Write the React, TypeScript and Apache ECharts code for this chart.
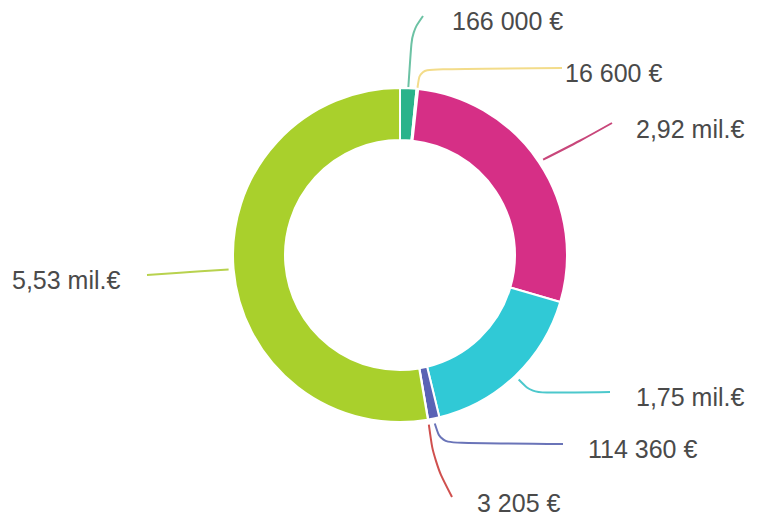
import React, { useEffect, useRef } from "react";
import * as echarts from "echarts";

const categories = ["A", "B", "C", "D", "E", "F", "G"];
const values = [166000, 16600, 2920000, 1750000, 114360, 3205, 5530000];
const valueLabels = [
  "166 000 €",
  "16 600 €",
  "2,92 mil.€",
  "1,75 mil.€",
  "114 360 €",
  "3 205 €",
  "5,53 mil.€",
];
const sliceColors = ["#2bb38b", "#f1d35a", "#d62f86", "#30c9d6", "#5a63b5", "#d9403f", "#a9d02c"];
const lineColors = ["#6cc2a4", "#f3dc8a", "#c8467a", "#4cc8cc", "#6a74b8", "#d0504e", "#b8d24e"];

// label layout (text anchor: left edge, vertical middle) and label-line bend/end points
const labelPos: number[][] = [
  [452, 21],
  [565, 73],
  [636, 129],
  [636, 397],
  [588, 449],
  [477, 503],
  [12, 280],
];
const lineBend: number[][] = [
  [412, 32],
  [420, 69],
  [580, 141],
  [532, 393],
  [441, 443],
  [434, 462],
  [190, 272],
];
const lineEnd: number[][] = [
  [423, 16],
  [562, 68],
  [612, 123],
  [610, 392],
  [563, 444],
  [452, 497],
  [147, 275],
];

const CX = 400;
const CY = 255;

export default function App() {
  const ref = useRef<HTMLDivElement>(null);
  useEffect(() => {
    if (!ref.current) return;
    const chart = echarts.init(ref.current, null, { renderer: "svg" });
    chart.setOption({
      animation: false,
      backgroundColor: "#ffffff",
      series: [
        {
          type: "pie",
          center: [CX, CY],
          radius: [115, 167],
          startAngle: 90,
          clockwise: true,
          avoidLabelOverlap: false,
          itemStyle: { borderColor: "#ffffff", borderWidth: 2 },
          label: {
            show: true,
            position: "outside",
            color: "#4a4a4a",
            fontSize: 25,
            fontFamily: "Liberation Sans, Arial, sans-serif",
            formatter: (p: any) => valueLabels[p.dataIndex],
          },
          labelLine: {
            show: true,
            smooth: 0.35,
            length: 10,
            length2: 10,
            lineStyle: { width: 2 },
          },
          labelLayout: (p: any) => {
            const i = p.dataIndex;
            const pts = p.labelLinePoints || [[CX, CY - 167]];
            const s = pts[0];
            const dx = s[0] - CX;
            const dy = s[1] - CY;
            const len = Math.sqrt(dx * dx + dy * dy) || 1;
            const gap = i <= 1 ? 1 : 5;
            const start = [s[0] + (dx / len) * gap, s[1] + (dy / len) * gap];
            return {
              x: labelPos[i][0],
              y: labelPos[i][1],
              align: "left",
              verticalAlign: "middle",
              labelLinePoints: [start, lineBend[i], lineEnd[i]],
            };
          },
          data: categories.map((c, i) => ({
            name: c,
            value: values[i],
            itemStyle: { color: sliceColors[i] },
            labelLine: { lineStyle: { color: lineColors[i] } },
          })),
        },
      ],
    });
    return () => chart.dispose();
  }, []);
  return (
    <div
      ref={ref}
      style={{ position: "fixed", left: 0, top: 0, width: 759, height: 517 }}
    />
  );
}
